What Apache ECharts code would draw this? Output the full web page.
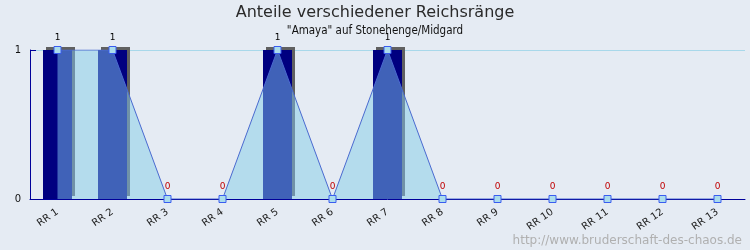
<!DOCTYPE html>
<html><head><meta charset="utf-8">
<script src="https://cdn.jsdelivr.net/npm/echarts@6/dist/echarts.min.js"></script>
<style>html,body{margin:0;padding:0;background:#e5ebf3}#c{width:750px;height:250px}</style>
</head><body><div id="c"></div>
<script>
const categories = ["RR 1","RR 2","RR 3","RR 4","RR 5","RR 6","RR 7","RR 8","RR 9","RR 10","RR 11","RR 12","RR 13"];
const values = [1,1,0,0,1,0,1,0,0,0,0,0,0];
const yTicks = [0,1];
const titleText = "Anteile verschiedener Reichsränge";
const subtitleText = "\"Amaya\" auf Stonehenge/Midgard";
const watermark = "http://www.bruderschaft-des-chaos.de";

const chart = echarts.init(document.getElementById('c'), null, {renderer:'canvas'});
chart.setOption({
  backgroundColor: '#e5ebf3',
  animation: false,
  title: [
    {text: titleText, left: 'center', top: 0, textStyle:{fontFamily:'DejaVu Sans', fontSize:16, fontWeight:'normal', color:'#2a2a2a'}},
    {text: subtitleText, left: 'center', top: 20, textStyle:{fontFamily:'DejaVu Sans Condensed', fontSize:11.5, fontWeight:'normal', color:'#111'}},
    {text: watermark, right: 3, bottom: -2, textStyle:{fontFamily:'DejaVu Sans', fontSize:12, fontWeight:'normal', color:'#b0b0b0'}}
  ],
  grid: {left: 30, right: 5, top: 50, bottom: 51, containLabel: false},
  xAxis: {
    type: 'category', data: categories, boundaryGap: true,
    axisLine: {lineStyle: {color: '#00009a', width: 1}},
    axisTick: {inside: true, length: 4, interval: 0, lineStyle:{color:'#00009a'}},
    axisLabel: {rotate: 35, interval: 0, margin: 12, fontFamily:'DejaVu Sans', fontSize: 10, color:'#222'},
    splitLine: {show: false}
  },
  yAxis: {
    type: 'value', min: yTicks[0], max: yTicks[yTicks.length-1], interval: 1,
    axisLine: {show: true, lineStyle: {color: '#00009a'}},
    axisTick: {show: true, inside: true, length: 6, lineStyle:{color:'#00009a'}},
    axisLabel: {margin: 9, fontFamily:'DejaVu Sans', fontSize: 10, color:'#111'},
    splitLine: {show: true, lineStyle: {color: '#a8d8ea', width: 1}}
  },
  series: [
    {
      type: 'line', data: values, symbol: 'none', silent: true,
      lineStyle: {width: 0, opacity: 0},
      areaStyle: {color: '#e8f4ea', opacity: 1},
      z: 1
    },
    {
      type: 'bar', data: values, barWidth: 29,
      itemStyle: {color: '#000080', shadowColor: '#606060', shadowBlur: 0, shadowOffsetX: 3, shadowOffsetY: -3},
      z: 2
    },
    {
      type: 'line', data: values, symbol: 'rect', symbolSize: 7,
      lineStyle: {color: '#4a6ad0', width: 1},
      itemStyle: {color: '#aadcec', borderColor: '#3a5cf0', borderWidth: 1},
      areaStyle: {color: 'rgba(128,196,240,0.5)', opacity: 1},
      label: {show: true, position: 'top', distance: 4, fontFamily:'DejaVu Sans', fontSize: 9,
        formatter: p => p.value > 0 ? '{a|' + p.value + '}' : '{b|' + p.value + '}',
        rich: {a: {color:'#000', fontSize: 9, fontFamily:'DejaVu Sans'}, b: {color:'#c00000', fontSize: 9, fontFamily:'DejaVu Sans'}}
      },
      z: 3
    }
  ]
});
</script></body></html>
